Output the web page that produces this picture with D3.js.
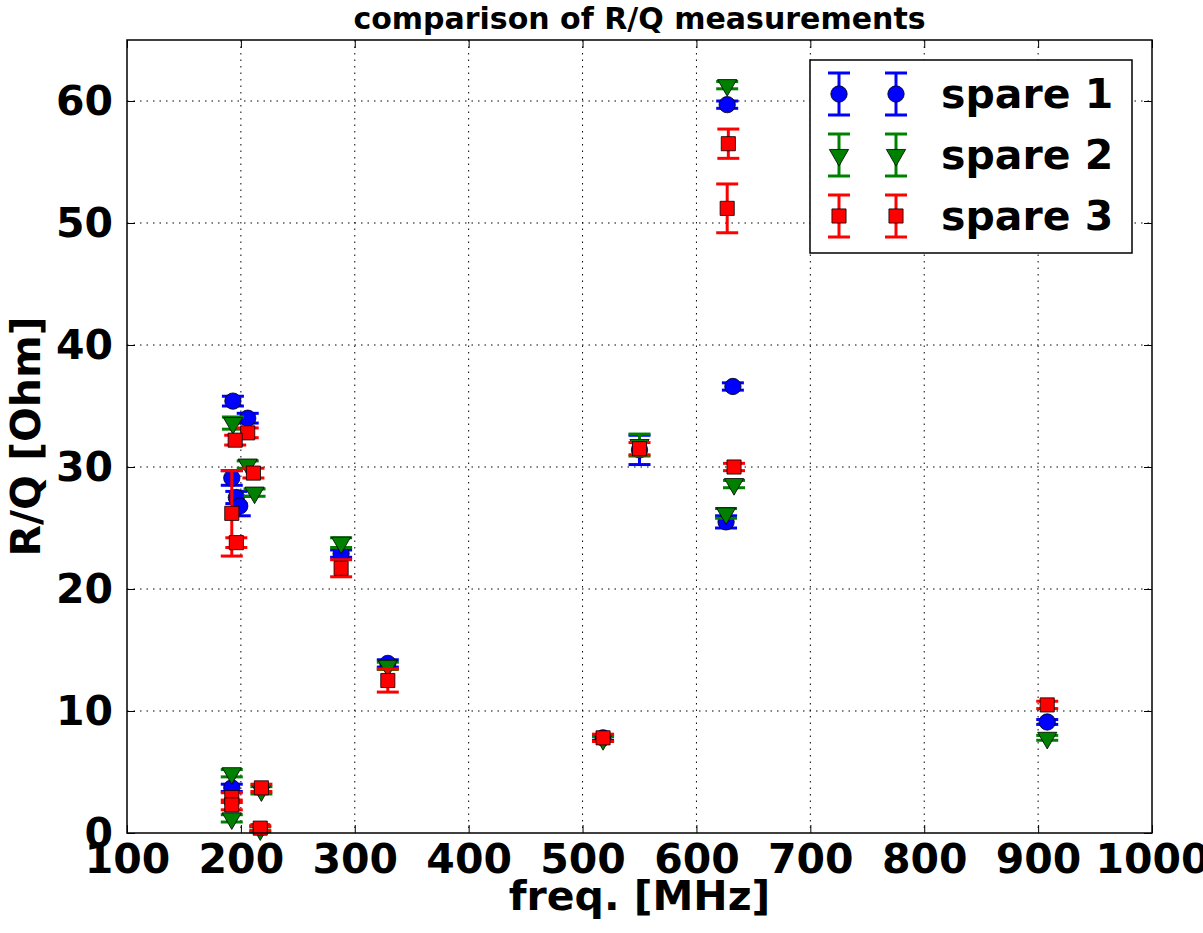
<!DOCTYPE html>
<html>
<head>
<meta charset="utf-8">
<script src="https://cdn.jsdelivr.net/npm/d3@7"></script>
<style>
  body { margin: 0; background: #fff; }
  text { font-family: "DejaVu Sans", sans-serif; font-weight: bold; }
</style>
</head>
<body>
<svg id="chart"></svg>
<script>
// data: [freq MHz, R/Q Ohm, error]
const spare1 = [
  [193, 35.4, 0.4], [206, 34.0, 0.4], [192, 29.1, 0.6], [196, 27.5, 0.5],
  [199, 26.8, 0.8], [192, 3.7, 0.3], [288, 22.9, 0.3], [329, 13.9, 0.3],
  [518, 7.8, 0.2], [550, 31.4, 1.2], [632, 36.6, 0.3], [626, 25.5, 0.5],
  [627, 59.7, 0.3], [908, 9.1, 0.2]
];
const spare2 = [
  [193, 33.6, 0.5], [206, 30.2, 0.3], [212, 27.9, 0.3], [192, 4.9, 0.3],
  [192, 1.2, 0.3], [218, 3.5, 0.3], [217, 0.3, 0.2], [288, 23.8, 0.4],
  [329, 13.7, 0.3], [518, 7.7, 0.2], [550, 31.8, 0.9], [627, 61.3, 0.3],
  [633, 28.6, 0.3], [626, 26.2, 0.4], [908, 7.8, 0.2]
];
const spare3 = [
  [206, 32.8, 0.4], [195, 32.2, 0.4], [211, 29.5, 0.4], [192, 26.2, 3.5],
  [196, 23.8, 0.4], [192, 2.9, 0.4], [192, 2.3, 0.4], [218, 3.7, 0.3],
  [217, 0.4, 0.2], [288, 21.7, 0.7], [329, 12.5, 0.95], [518, 7.8, 0.3],
  [550, 31.5, 0.5], [628, 56.5, 1.2], [627, 51.2, 2.0], [633, 30.0, 0.3],
  [908, 10.5, 0.3]
];
const seriesNames = ["spare 1", "spare 2", "spare 3"];
const xTicks = [100, 200, 300, 400, 500, 600, 700, 800, 900, 1000];
const yTicks = [0, 10, 20, 30, 40, 50, 60];

let width = 1203, height = 933;
let margin = { top: 40, right: 51, bottom: 100, left: 127 };

let svg = d3.select("#chart").attr("width", width).attr("height", height);

let xScale = d3.scaleLinear().domain([100, 1000]).range([margin.left, width - margin.right]);
let yScale = d3.scaleLinear().domain([0, 65]).range([height - margin.bottom, margin.top]);

// grid
svg.append("g")
  .selectAll("line")
  .data(xTicks.slice(1, -1))
  .enter()
  .append("line")
  .attr("x1", (d) => xScale(d)).attr("x2", (d) => xScale(d))
  .attr("y1", yScale(65)).attr("y2", yScale(0))
  .attr("stroke", "#000").attr("stroke-width", 1).attr("stroke-dasharray", "1.5,5");
svg.append("g")
  .selectAll("line")
  .data(yTicks.slice(1))
  .enter()
  .append("line")
  .attr("y1", (d) => yScale(d)).attr("y2", (d) => yScale(d))
  .attr("x1", xScale(100)).attr("x2", xScale(1000))
  .attr("stroke", "#000").attr("stroke-width", 1).attr("stroke-dasharray", "1.5,5");

// axes, ticks pointing inwards on every side
let fmt = d3.format("d");
svg.append("g")
  .attr("transform", `translate(0, ${yScale(0)})`)
  .call(d3.axisBottom(xScale).tickValues(xTicks).tickFormat(fmt).tickSizeInner(-8).tickSizeOuter(0).tickPadding(11))
  .call((g) => g.select(".domain").remove())
  .selectAll("text").attr("font-size", "41px").attr("font-family", "DejaVu Sans").attr("font-weight", "bold").attr("fill", "#000");
svg.append("g")
  .attr("transform", `translate(0, ${yScale(65)})`)
  .call(d3.axisTop(xScale).tickValues(xTicks).tickFormat("").tickSizeInner(-8).tickSizeOuter(0))
  .select(".domain").remove();
svg.append("g")
  .attr("transform", `translate(${xScale(100)}, 0)`)
  .call(d3.axisLeft(yScale).tickValues(yTicks).tickFormat(fmt).tickSizeInner(-8).tickSizeOuter(0).tickPadding(14))
  .call((g) => g.select(".domain").remove())
  .selectAll("text").attr("font-size", "41px").attr("font-family", "DejaVu Sans").attr("font-weight", "bold").attr("fill", "#000");
svg.append("g")
  .attr("transform", `translate(${xScale(1000)}, 0)`)
  .call(d3.axisRight(yScale).tickValues(yTicks).tickFormat("").tickSizeInner(-8).tickSizeOuter(0))
  .select(".domain").remove();

// data series
let colors = ["#0000ff", "#008000", "#ff0000"];
let symbols = [d3.symbolCircle, d3.symbolTriangle, d3.symbolSquare];
let symSize = [210, 160, 200];
let capW = 11;

function marker(g, i, x, y) {
  let p = g.append("path")
    .attr("d", d3.symbol().type(symbols[i]).size(symSize[i])())
    .attr("fill", colors[i])
    .attr("stroke", "#000").attr("stroke-width", 0.8);
  let rot = i === 1 ? " rotate(180)" : "";
  p.attr("transform", `translate(${x}, ${y})${rot}`);
}

function errbar(g, i, x, y1, y2) {
  g.append("line").attr("x1", x).attr("x2", x).attr("y1", y1).attr("y2", y2)
    .attr("stroke", colors[i]).attr("stroke-width", 3);
  [y1, y2].forEach((yy) => {
    g.append("line").attr("x1", x - capW).attr("x2", x + capW).attr("y1", yy).attr("y2", yy)
      .attr("stroke", colors[i]).attr("stroke-width", 3);
  });
}

let plot = svg.append("g");
[spare1, spare2, spare3].forEach(function (data, i) {
  let g = plot.append("g");
  data.forEach(function (d) {
    errbar(g, i, xScale(d[0]), yScale(d[1] + d[2]), yScale(d[1] - d[2]));
  });
  data.forEach(function (d) {
    marker(g, i, xScale(d[0]), yScale(d[1]));
  });
});

// frame
svg.append("rect")
  .attr("x", xScale(100)).attr("y", yScale(65))
  .attr("width", xScale(1000) - xScale(100)).attr("height", yScale(0) - yScale(65))
  .attr("fill", "none").attr("stroke", "#000").attr("stroke-width", 1.5);

// legend
let lg = svg.append("g").attr("transform", "translate(810, 60)");
lg.append("rect").attr("width", 322).attr("height", 193)
  .attr("fill", "#fff").attr("stroke", "#000").attr("stroke-width", 1.5);
seriesNames.forEach(function (name, i) {
  let cy = 34 + i * 61;
  [29, 86].forEach(function (cx) {
    errbar(lg, i, cx, cy - 21, cy + 21);
    marker(lg, i, cx, cy);
  });
  lg.append("text").attr("x", 131).attr("y", cy).attr("dy", "0.35em")
    .attr("font-size", "41px").attr("fill", "#000").text(name);
});

// titles
svg.append("text").attr("x", (xScale(100) + xScale(1000)) / 2).attr("y", 29)
  .attr("text-anchor", "middle").attr("font-size", "30px").text("comparison of R/Q measurements");
svg.append("text").attr("x", (xScale(100) + xScale(1000)) / 2).attr("y", 910)
  .attr("text-anchor", "middle").attr("font-size", "41px").text("freq. [MHz]");
svg.append("text")
  .attr("transform", `translate(40, ${(yScale(0) + yScale(65)) / 2}) rotate(-90)`)
  .attr("text-anchor", "middle").attr("font-size", "41px").text("R/Q [Ohm]");
</script>
</body>
</html>
